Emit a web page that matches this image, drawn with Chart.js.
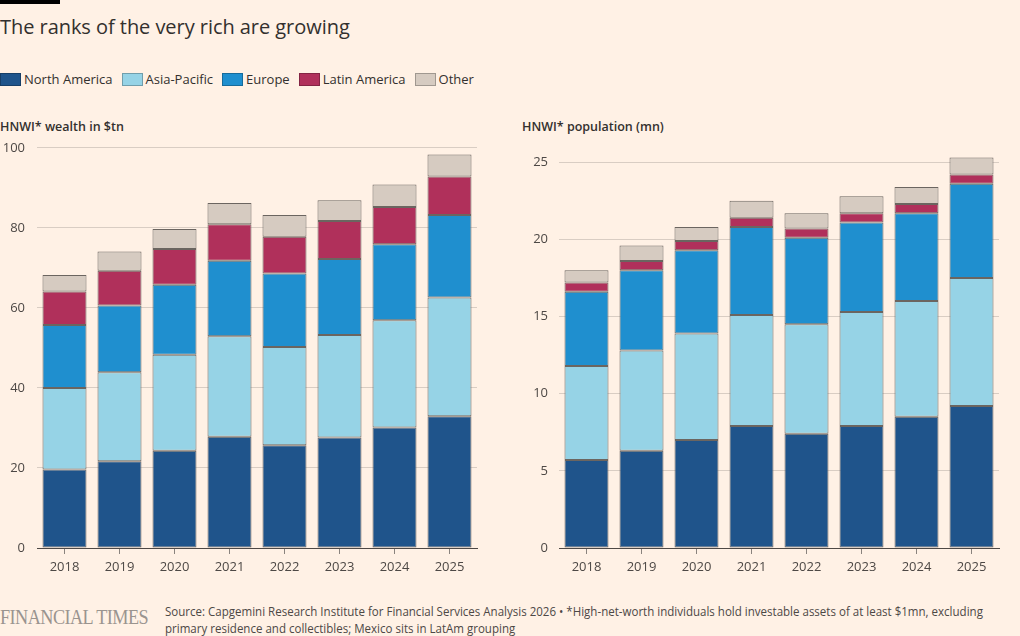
<!DOCTYPE html>
<html>
<head>
<meta charset="utf-8">
<script src="https://cdn.jsdelivr.net/npm/chart.js@4"></script>
<style>
  html, body { margin: 0; padding: 0; background: #fff1e5; }
  body { width: 1020px; height: 636px; position: relative; overflow: hidden;
         font-family: "Open Sans", "Noto Sans", sans-serif; color: #33302e; }
  .topbar { position: absolute; left: 0; top: 0; width: 60px; height: 4px; background: #000; }
  h1 { position: absolute; left: 0; top: 13px; margin: 0; font-weight: 400; font-size: 20px; letter-spacing: -0.05px; }
  .legend { position: absolute; left: 0; top: 70px; display: flex; font-size: 13px; }
  .legend-item { display: flex; align-items: center; margin-right: 9px; }
  .legend-swatch { width: 19px; height: 11px; margin-right: 3px; border: 1px solid rgba(0,0,0,0.25); }
  .chart-title { position: absolute; top: 118px; font-size: 12.5px; font-weight: 600; }
  .chart-box { position: absolute; top: 128px; height: 452px; }
  .ft { position: absolute; left: 0; top: 606px; font-family: "Liberation Serif", serif; font-size: 20px;
        color: #9a948f; letter-spacing: -0.6px; transform: scaleX(0.91); transform-origin: left; white-space: nowrap; }
  .source { position: absolute; left: 165px; top: 603px; width: 960px; font-size: 13px; line-height: 17px;
            color: #4d4845; transform: scaleX(0.887); transform-origin: left top; white-space: nowrap; }
</style>
</head>
<body>
<div class="topbar"></div>
<h1>The ranks of the very rich are growing</h1>
<div class="legend" id="legend"></div>

<div class="chart-title" style="left:0">HNWI* wealth in $tn</div>
<div class="chart-title" style="left:522px">HNWI* population (mn)</div>

<div class="chart-box" style="left:0; width:478px;"><canvas id="wealth"></canvas></div>
<div class="chart-box" style="left:510px; width:490px;"><canvas id="population"></canvas></div>

<div class="ft">FINANCIAL TIMES</div>
<div class="source">Source: Capgemini Research Institute for Financial Services Analysis 2026 &bull; *High-net-worth individuals hold investable assets of at least $1mn, excluding<br>primary residence and collectibles; Mexico sits in LatAm grouping</div>

<script>
// ── Data ───────────────────────────────────────────────────
const years   = ["2018", "2019", "2020", "2021", "2022", "2023", "2024", "2025"];
const regions = ["North America", "Asia-Pacific", "Europe", "Latin America", "Other"];
const colors  = ["#1f548b", "#96d3e6", "#1f8fcf", "#b0305b", "#d6cbc1"];

// wealth, $tn
const wealthNA    = [19.6, 21.7, 24.3, 27.8, 25.7, 27.6, 30.1, 32.9];
const wealthAP    = [20.4, 22.2, 24.0, 25.1, 24.5, 25.6, 26.8, 29.7];
const wealthEU    = [15.7, 16.7, 17.5, 18.9, 18.4, 19.0, 19.0, 20.6];
const wealthLA    = [ 8.4,  8.7,  8.9,  9.1,  9.2,  9.5,  9.3,  9.6];
const wealthOther = [ 4.1,  4.8,  5.0,  5.3,  5.4,  5.2,  5.6,  5.5];

// population, mn
const popNA    = [5.7, 6.3, 7.0, 7.9, 7.4, 7.9, 8.5, 9.2];
const popAP    = [6.1, 6.5, 6.9, 7.2, 7.1, 7.4, 7.5, 8.3];
const popEU    = [4.8, 5.2, 5.4, 5.7, 5.6, 5.8, 5.7, 6.1];
const popLA    = [0.6, 0.6, 0.6, 0.6, 0.6, 0.6, 0.6, 0.6];
const popOther = [0.8, 1.0, 0.9, 1.1, 1.0, 1.1, 1.1, 1.1];

const wealthTicks = [0, 20, 40, 60, 80, 100];
const popTicks    = [0, 5, 10, 15, 20, 25];

// ── Legend ─────────────────────────────────────────────────
const legendEl = document.getElementById("legend");
regions.forEach((r, i) => {
  const item = document.createElement("div");
  item.className = "legend-item";
  item.innerHTML = `<span class="legend-swatch" style="background:${colors[i]}"></span><span>${r}</span>`;
  legendEl.appendChild(item);
});

// ── Charts ─────────────────────────────────────────────────
Chart.defaults.font.family = "'Open Sans', 'Noto Sans', sans-serif";
Chart.defaults.font.size = 13;
Chart.defaults.color = "#66605c";

function makeChart(id, series, ticks, yMax, axisWidth, labelPad) {
  return new Chart(document.getElementById(id), {
    type: "bar",
    data: {
      labels: years,
      datasets: series.map((data, i) => ({
        label: regions[i],
        data,
        backgroundColor: colors[i],
        borderColor: "#6b6560",
        borderWidth: 1,
        borderSkipped: false,
        barPercentage: 0.8,
        categoryPercentage: 1.0,
      })),
    },
    options: {
      responsive: true,
      maintainAspectRatio: false,
      animation: false,
      layout: { padding: { top: 15, right: 1, left: 0, bottom: 0 } },
      plugins: { legend: { display: false }, tooltip: { enabled: false } },
      scales: {
        x: {
          stacked: true,
          grid: { offset: false, drawOnChartArea: false, drawTicks: true, tickLength: 6, color: "#8a837e" },
          border: { display: true, color: "#4d4845", width: 1 },
          ticks: { padding: 5, color: "#4d4845" },
          afterFit: (s) => { s.height = 32; },
        },
        y: {
          stacked: true,
          min: 0,
          max: yMax,
          grid: { color: "#d9cdc3", drawTicks: false },
          border: { display: false },
          ticks: { stepSize: ticks[1] - ticks[0], padding: labelPad, color: "#4d4845" },
          afterBuildTicks: (s) => { s.ticks = ticks.map(v => ({ value: v })); },
          afterFit: (s) => { s.width = axisWidth; },
        },
      },
    },
  });
}

makeChart("wealth", [wealthNA, wealthAP, wealthEU, wealthLA, wealthOther], wealthTicks, 100, 37, 12);
makeChart("population", [popNA, popAP, popEU, popLA, popOther], popTicks, 26, 49, 11);
</script>
</body>
</html>
